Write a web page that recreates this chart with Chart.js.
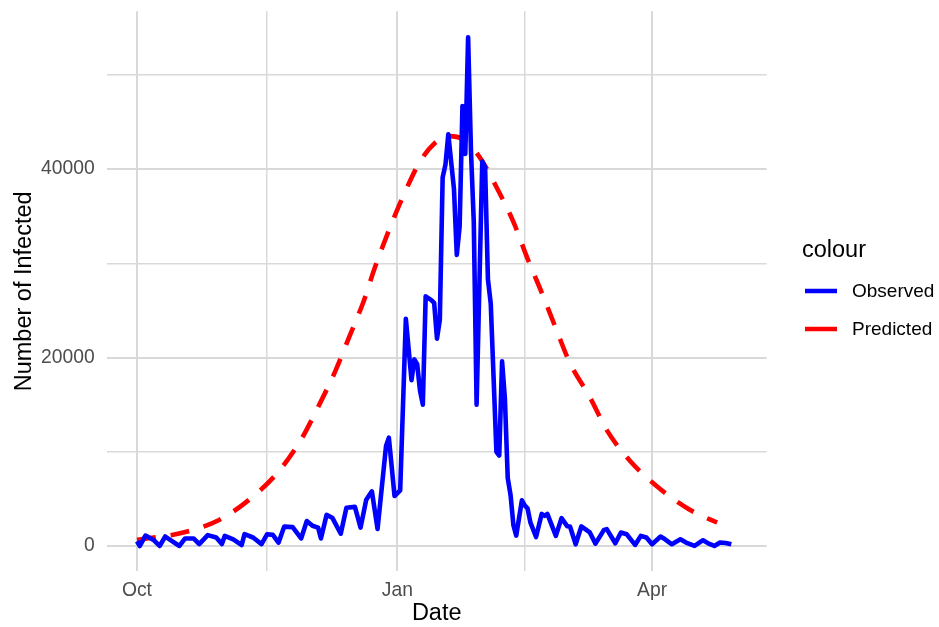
<!DOCTYPE html>
<html>
<head>
<meta charset="utf-8">
<script src="https://cdn.jsdelivr.net/npm/chart.js@4"></script>
<style>
  html, body { margin: 0; padding: 0; background: #ffffff; }
  #wrap { width: 939px; height: 627px; }
</style>
</head>
<body>
<div id="wrap"><canvas id="chart" width="939" height="627"></canvas></div>
<script>
// days counted from 1 Oct
const observedDays = [0, 1, 3, 6, 8, 10, 12, 15, 17, 20, 22, 25, 28, 30, 31, 34, 37, 38, 41, 44,
  46, 48, 50, 52, 55, 58, 60, 62, 64, 65, 67, 69, 72, 74, 77, 79, 81, 83, 85, 88,
  89, 91, 93, 95, 97, 98, 99, 100, 101, 102, 104, 105, 106, 107, 108, 109, 110, 112, 113, 114,
  115, 116, 117, 118, 119, 120, 122, 123, 124, 125, 127, 128, 129, 130, 131, 132, 133, 134, 136, 137,
  138, 139, 141, 143, 144, 145, 148, 150, 152, 153, 155, 157, 160, 162, 165, 166, 169, 171, 173, 176,
  178, 180, 182, 185, 186, 189, 192, 194, 197, 200, 202, 204, 206, 208, 210];
const observedValues = [500, 0, 1100, 600, 0, 1000, 600, 0, 800, 800, 200, 1150, 900, 200, 1070, 700, 100, 1250, 900, 200,
  1250, 1180, 350, 2050, 2000, 800, 2650, 2150, 1950, 800, 3300, 3000, 1300, 4050, 4150, 1950, 4900, 5800, 1800, 10600,
  11500, 5300, 5900, 24100, 17600, 19800, 19300, 16500, 15000, 26500, 26100, 25800, 22000, 24000, 39100, 40500, 43700, 37900, 30900, 33900,
  46700, 41600, 54000, 42000, 34400, 15000, 40800, 40200, 28300, 25700, 10000, 9600, 19600, 15600, 7200, 5400, 2200, 1100, 4850, 4300,
  4000, 2500, 950, 3400, 3200, 3400, 1070, 2950, 2100, 2070, 180, 2070, 1430, 250, 1710, 1790, 290, 1430, 1250, 110,
  1070, 890, 180, 1000, 820, 180, 710, 360, 0, 610, 250, 0, 360, 320, 180];

const predictedDays = [0, 3, 16, 29, 40, 50, 58, 64, 70, 75, 80, 84, 89, 94, 100, 105, 110, 115,
  121, 127, 133, 138, 143, 148, 153, 160, 166, 174, 184, 195, 201, 205];
const predictedValues = [650, 780, 1400, 2750, 5000, 7900, 11300, 14750, 18500, 22200, 25900, 29500, 33500, 37100, 40800, 42700, 43500, 43200,
  41300, 38100, 34400, 30500, 26900, 23100, 19400, 15800, 12300, 9100, 6250, 3900, 3000, 2500];

const xTicks = [0, 46, 92, 137, 182];
const xTickLabels = ['Oct', '', 'Jan', '', 'Apr'];
const yTicks = [0, 10000, 20000, 30000, 40000, 50000];
const yTickLabels = ['0', '', '20000', '', '40000', ''];

const FONT = "'Liberation Sans', Arial, sans-serif";

function toPoints(days, values) {
  return days.map((d, i) => ({ x: d, y: values[i] }));
}

// ggplot style legend on the right
const sideLegend = {
  id: 'sideLegend',
  afterDraw(chart) {
    const ctx = chart.ctx;
    ctx.save();
    ctx.fillStyle = '#000000';
    ctx.font = `23.5px ${FONT}`;
    ctx.textBaseline = 'alphabetic';
    ctx.fillText('colour', 802, 257);
    const rows = [291, 329];
    chart.data.datasets.forEach((ds, i) => {
      const y = rows[i];
      ctx.beginPath();
      ctx.strokeStyle = ds.borderColor;
      ctx.lineWidth = 4.5;
      ctx.lineCap = 'butt';
      ctx.moveTo(805, y);
      ctx.lineTo(837, y);
      ctx.stroke();
      ctx.font = `19px ${FONT}`;
      ctx.textBaseline = 'middle';
      ctx.fillText(ds.label, 852, y + 1);
    });
    ctx.restore();
  }
};

new Chart(document.getElementById('chart'), {
  type: 'line',
  data: {
    datasets: [
      {
        label: 'Observed',
        data: toPoints(observedDays, observedValues),
        borderColor: '#0000ff',
        borderWidth: 4.6,
        borderJoinStyle: 'round',
        pointRadius: 0,
        tension: 0
      },
      {
        label: 'Predicted',
        data: toPoints(predictedDays, predictedValues),
        borderColor: '#ff0000',
        borderWidth: 4.6,
        borderDash: [19, 15],
        borderCapStyle: 'butt',
        pointRadius: 0,
        cubicInterpolationMode: 'monotone'
      }
    ]
  },
  options: {
    responsive: false,
    animation: false,
    layout: { padding: { top: 11.3, right: 172.3, left: 0, bottom: 0 } },
    plugins: { legend: { display: false }, tooltip: { enabled: false } },
    scales: {
      x: {
        type: 'linear',
        min: -10.7,
        max: 222.5,
        afterFit: (scale) => {
          scale.height = 55.6;
          scale.paddingLeft = 0;
          scale.paddingRight = 0;
        },
        afterBuildTicks: (scale) => { scale.ticks = xTicks.map((v) => ({ value: v })); },
        border: { display: false },
        grid: {
          color: '#d9d9d9',
          lineWidth: (c) => (xTickLabels[c.index] ? 2 : 1.5),
          drawTicks: false
        },
        ticks: {
          padding: 8,
          color: '#4d4d4d',
          font: { family: FONT, size: 19.3 },
          maxRotation: 0,
          autoSkip: false,
          callback: (v, i) => xTickLabels[i]
        },
        title: {
          display: true,
          text: 'Date',
          color: '#000000',
          font: { family: FONT, size: 23.5 },
          padding: { top: 0, bottom: -1 }
        }
      },
      y: {
        min: -2700,
        max: 56750,
        afterFit: (scale) => {
          scale.width = 106.7;
          scale.paddingTop = 0;
          scale.paddingBottom = 0;
        },
        afterBuildTicks: (scale) => { scale.ticks = yTicks.map((v) => ({ value: v })); },
        border: { display: false },
        grid: {
          color: '#d9d9d9',
          lineWidth: (c) => (yTickLabels[c.index] ? 2 : 1.5),
          drawTicks: false
        },
        ticks: {
          padding: 12,
          color: '#4d4d4d',
          font: { family: FONT, size: 19.3 },
          autoSkip: false,
          callback: (v, i) => yTickLabels[i]
        },
        title: {
          display: true,
          text: 'Number of Infected',
          color: '#000000',
          font: { family: FONT, size: 23.5 },
          padding: { top: 10, bottom: 0 }
        }
      }
    }
  },
  plugins: [sideLegend]
});
</script>
</body>
</html>
